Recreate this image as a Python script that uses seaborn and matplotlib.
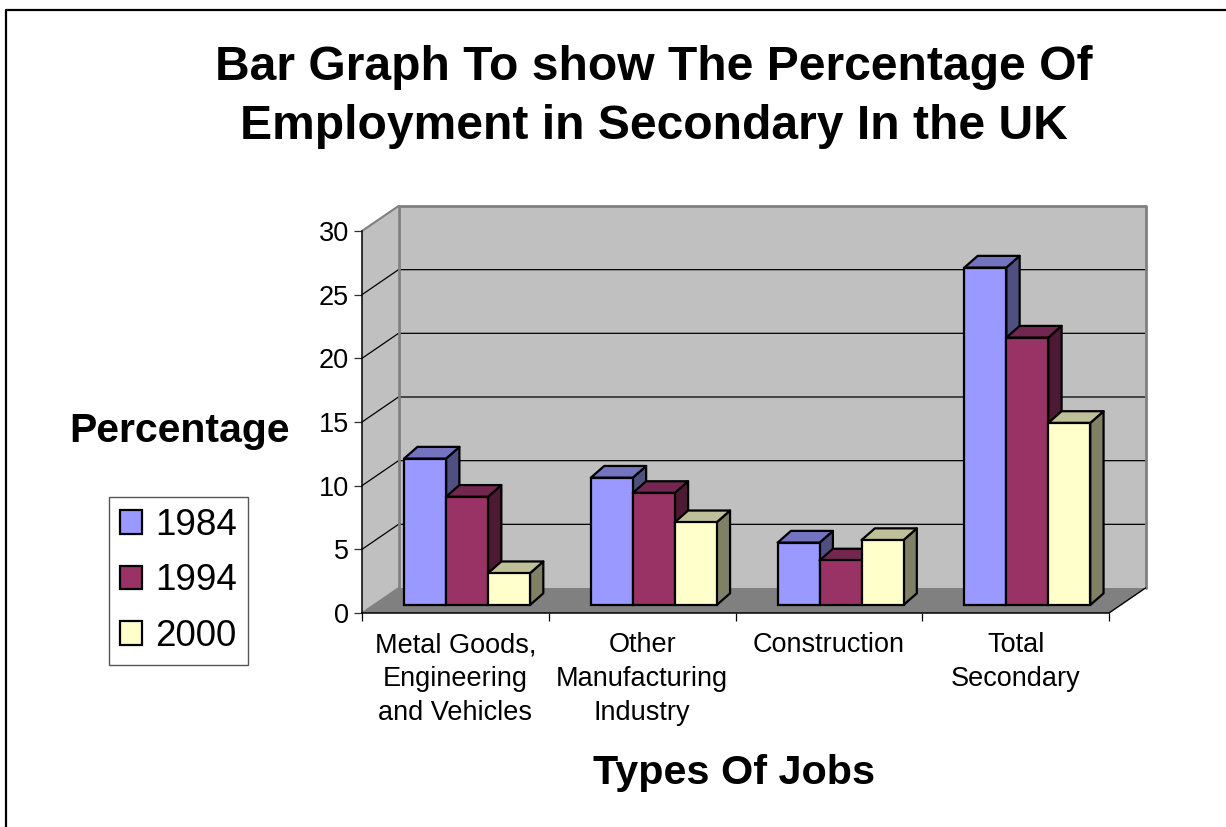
import matplotlib
matplotlib.use("Agg")
import matplotlib.pyplot as plt
import numpy as np
import pandas as pd
import seaborn as sns
from matplotlib.lines import Line2D
from matplotlib.patches import Polygon
from matplotlib.transforms import Affine2D, IdentityTransform
from matplotlib.ticker import FixedLocator, NullFormatter

categories = ["Metal Goods,\nEngineering\nand Vehicles", "Other\nManufacturing\nIndustry",
              "Construction", "Total\nSecondary"]
years = ["1984", "1994", "2000"]
v1984 = [11.5, 10.0, 4.9, 26.5]
v1994 = [8.5, 8.8, 3.5, 21.0]
v2000 = [2.5, 6.5, 5.1, 14.3]
yticks = [0, 5, 10, 15, 20, 25, 30]
front_colors = ["#9999FF", "#993366", "#FFFFCC"]
top_colors = ["#7373BF", "#732650", "#BFBF99"]
side_colors = ["#4F4F80", "#4D1A33", "#808066"]

df = pd.DataFrame({
    "category": categories * 3,
    "year": sum([[y] * 4 for y in years], []),
    "value": v1984 + v1994 + v2000,
})

sns.set_theme(style="white")
plt.rcParams["font.family"] = ["Liberation Sans", "DejaVu Sans"]

W, H = 1226, 827
fig = plt.figure(figsize=(W / 100, H / 100), dpi=100, facecolor="white")
ax = fig.add_axes([362 / W, 1 - 613 / H, (1109 - 362) / W, (613 - 231) / H])
ax.patch.set_visible(False)

sns.barplot(data=df, x="category", y="value", hue="year", hue_order=years,
            palette=front_colors, width=0.674, gap=0, dodge=True, errorbar=None,
            saturation=1, edgecolor="black", linewidth=1.6, ax=ax, zorder=5)
ax.set_xlim(-0.5, 3.5)
ax.set_ylim(0, 30)

# 3-D look (offsets in pixels)
wall_dx, wall_dy = 36.5, 25.0
bar_dx, bar_dy = 11.7, 8.0
depth_dx, depth_dy = 13.3, 11.7
gray = "#808080"
idt = IdentityTransform()


def disp(x, y):
    return ax.transData.transform((x, y))


x0, x1 = -0.5, 3.5
bl, br = disp(x0, 0), disp(x1, 0)
tl, tr = disp(x0, 30), disp(x1, 30)
off = np.array([wall_dx, wall_dy])
kw = dict(transform=idt, clip_on=False)
ax.add_patch(Polygon([bl + off, br + off, tr + off, tl + off], closed=True, fc="#C0C0C0", ec="none", zorder=0.5, **kw))
ax.add_patch(Polygon([bl, bl + off, tl + off, tl], closed=True, fc="#C0C0C0", ec="none", zorder=0.5, **kw))
ax.add_patch(Polygon([bl, br, br + off, bl + off], closed=True, fc=gray, ec="none", zorder=0.6, **kw))
for t in yticks[1:-1]:
    a = disp(x0, t)
    b = a + off
    c = disp(x1, t) + off
    ax.add_line(Line2D([a[0], b[0], c[0]], [a[1], b[1], c[1]], color="black", lw=0.9, zorder=1, **kw))
edge = [bl + off, tl + off, tr + off, br + off]
ax.add_line(Line2D([p[0] for p in edge], [p[1] for p in edge], color=gray, lw=2.0, zorder=1.2, **kw))
ax.add_line(Line2D([tl[0], tl[0] + off[0]], [tl[1], tl[1] + off[1]], color=gray, lw=1.5, zorder=1.2, **kw))
ax.add_line(Line2D([bl[0], bl[0] + off[0]], [bl[1], bl[1] + off[1]], color=gray, lw=1.2, zorder=1.2, **kw))
ax.add_line(Line2D([br[0], br[0] + off[0]], [br[1], br[1] + off[1]], color="black", lw=1.0, zorder=1.2, **kw))

# bars: shift front faces and add top and side faces
shift = ax.transData + Affine2D().translate(bar_dx, bar_dy)
s = np.array([bar_dx, bar_dy])
d = np.array([depth_dx, depth_dy])
for yi, container in enumerate(ax.containers):
    for cat, bar in enumerate(container):
        order = 3 + (cat * 3 + yi) * 0.1
        bx0, bx1 = bar.get_x(), bar.get_x() + bar.get_width()
        h = bar.get_height()
        bar.set_transform(shift)
        bar.set_clip_on(False)
        bar.set_zorder(order + 0.02)
        p00, p10 = disp(bx0, h) + s, disp(bx1, h) + s
        p1b = disp(bx1, 0) + s
        style = dict(ec="black", lw=1.6, joinstyle="round", zorder=order, **kw)
        ax.add_patch(Polygon([p10, p10 + d, p1b + d, p1b], closed=True, fc=side_colors[yi], **style))
        ax.add_patch(Polygon([p00, p10, p10 + d, p00 + d], closed=True, fc=top_colors[yi], **style))

# axes
for name in ("top", "right"):
    ax.spines[name].set_visible(False)
for name in ("left", "bottom"):
    ax.spines[name].set_visible(True)
    ax.spines[name].set_color("black")
    ax.spines[name].set_linewidth(1.1)
    ax.spines[name].set_zorder(2)
ax.set_yticks(yticks)
ax.tick_params(axis="y", which="major", left=True, length=5.8, width=0.9, color="#303030",
               labelsize=19.5, pad=3.6, labelcolor="black")
ax.tick_params(axis="x", which="major", bottom=False, length=0, labelsize=19.5, pad=14, labelcolor="black")
ax.xaxis.set_minor_locator(FixedLocator(np.arange(-0.5, 4, 1)))
ax.xaxis.set_minor_formatter(NullFormatter())
ax.tick_params(axis="x", which="minor", bottom=True, length=5.8, width=0.9, color="black")
for lab in ax.get_xticklabels():
    lab.set_linespacing(1.39)

ax.set_xlabel("Types Of Jobs", fontsize=29.7, fontweight="bold", color="black")
ax.xaxis.set_label_coords(734.5 / W, 1 - 773 / H, transform=fig.transFigure)
ax.xaxis.label.set_va("center")
ax.set_ylabel("Percentage", fontsize=29.5, fontweight="bold", color="black", rotation=0, ha="center", va="center")
ax.yaxis.set_label_coords(179 / W, 1 - 431 / H, transform=fig.transFigure)

fig.text(654 / W, 1 - 97 / H, "Bar Graph To show The Percentage Of\nEmployment in Secondary In the UK",
         ha="center", va="center", fontsize=34.6, fontweight="bold", color="black", linespacing=1.4)

# legend
handles, labels = ax.get_legend_handles_labels()
leg = ax.legend(handles, labels, loc="center", bbox_to_anchor=(178.5 / W, 1 - 581 / H),
                bbox_transform=fig.transFigure, fontsize=26.5, labelcolor="black", frameon=True, fancybox=False,
                framealpha=1, edgecolor="#555555", title=None, handlelength=0.6, handleheight=0.6,
                handletextpad=0.35, labelspacing=0.56, borderpad=0.3, borderaxespad=0)
leg.get_frame().set_linewidth(1.0)
leg.set_zorder(10)

# outer frame (left and top only)
fig.add_artist(Line2D([6 / W, 6 / W, 1], [0, 1 - 9.5 / H, 1 - 9.5 / H], color="black", lw=1.6,
                      transform=fig.transFigure))

fig.savefig("out.png", dpi=100, facecolor="white")
